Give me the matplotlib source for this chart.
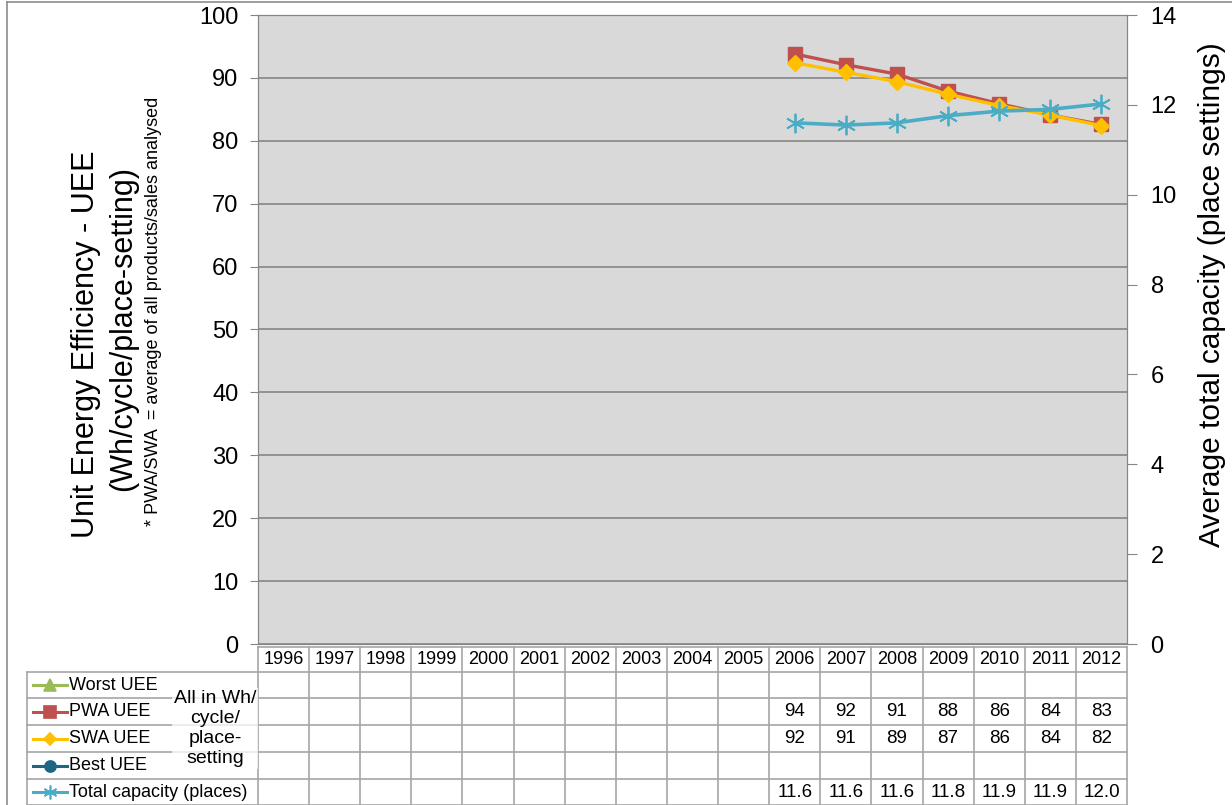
import numpy as np
import matplotlib
matplotlib.use('Agg')
import matplotlib.pyplot as plt
from matplotlib.lines import Line2D

plt.rcParams['font.family'] = ['Liberation Sans', 'DejaVu Sans']

# data
years = [str(y) for y in range(1996, 2013)]
pwa_years = ['2006', '2007', '2008', '2009', '2010', '2011', '2012']
pwa_uee = [93.8, 92.1, 90.6, 87.9, 85.9, 84.1, 82.6]
swa_uee = [92.4, 90.9, 89.4, 87.4, 85.6, 84.1, 82.4]
capacity = [11.6, 11.55, 11.6, 11.76, 11.86, 11.9, 12.02]
pwa_text = ['94', '92', '91', '88', '86', '84', '83']
swa_text = ['92', '91', '89', '87', '86', '84', '82']
cap_text = ['11.6', '11.6', '11.6', '11.8', '11.9', '11.9', '12.0']

c_worst = '#9bbb59'
c_pwa = '#c0504d'
c_swa = '#ffc000'
c_best = '#1f6584'
c_cap = '#4bacc6'
gridc = '#868686'

W, H = 1232, 805
fig = plt.figure(figsize=(W / 100, H / 100), dpi=100)

# figure border
fig.add_artist(Line2D([7 / W, 7 / W], [0, 1 - 2 / H], color='#8c8c8c', lw=1.2))
fig.add_artist(Line2D([7 / W, 1], [1 - 2 / H, 1 - 2 / H], color='#8c8c8c', lw=1.2))

x0, x1, ytop, ybot = 258, 1127, 15, 644
ax = fig.add_axes([x0 / W, 1 - ybot / H, (x1 - x0) / W, (ybot - ytop) / H])
ax.set_facecolor('#d9d9d9')
ax.set_xlim(-0.5, len(years) - 0.5)
ax.set_ylim(0, 100)
ax.set_yticks(np.arange(0, 101, 10))
ax.grid(axis='y', color=gridc, lw=1.2)
ax.set_axisbelow(True)
ax.set_xticks([])
for s in ax.spines.values():
    s.set_color(gridc)
ax.tick_params(axis='y', labelsize=17, length=6, color=gridc, pad=8)

xi = [years.index(y) for y in pwa_years]
ax.plot(xi, pwa_uee, '-s', color=c_pwa, lw=2.4, ms=10, zorder=3)
ax.plot(xi, swa_uee, '-D', color=c_swa, lw=2.4, ms=8, zorder=4)

ax2 = ax.twinx()
ax2.set_ylim(0, 14)
ax2.set_yticks(np.arange(0, 15, 2))
ax2.tick_params(axis='y', labelsize=17, length=7, color=gridc, pad=10)
for s in ax2.spines.values():
    s.set_color(gridc)
ax2.plot(xi, capacity, '-', color=c_cap, lw=2.6, marker=(6, 2, 0), ms=14, mew=1.3, zorder=3)

fig.text(86 / W, 1 - 344 / H, 'Unit Energy Efficiency - UEE', rotation=90,
         ha='center', va='center', fontsize=22)
fig.text(123 / W, 1 - 328 / H, '(Wh/cycle/place-setting)', rotation=90,
         ha='center', va='center', fontsize=22)
fig.text(154 / W, 1 - 311 / H, '* PWA/SWA  = average of all products/sales analysed',
         rotation=90, ha='center', va='center', fontsize=13)
fig.text(1212 / W, 1 - 295 / H, 'Average total capacity (place settings)', rotation=90,
         ha='center', va='center', fontsize=21.5)

# data table below the plot
tb_top = 647
tax = fig.add_axes([x0 / W, 0, (x1 - x0) / W, (H - tb_top) / H])
tax.set_xlim(-0.5, len(years) - 0.5)
tax.set_ylim(H - tb_top, 0)
tax.axis('off')
rows = [0, 25, 51, 78, 105, 132, 158]
colw = (x1 - x0) / len(years)
leg_left = -0.5 - (x0 - 27) / colw
lc = '#a6a6a6'
tax.plot([-0.5, len(years) - 0.5], [rows[0], rows[0]], color=lc, lw=1.2, clip_on=False)
for r in rows[1:]:
    tax.plot([leg_left, len(years) - 0.5], [r, r], color=lc, lw=1.2, clip_on=False)
for i in range(len(years) + 1):
    tax.plot([i - 0.5, i - 0.5], [rows[0], rows[-1]], color=lc, lw=1.2, clip_on=False)
tax.plot([leg_left, leg_left], [rows[1], rows[-1]], color=lc, lw=1.2, clip_on=False)

for i, y in enumerate(years):
    tax.text(i, (rows[0] + rows[1]) / 2, y, ha='center', va='center', fontsize=13)

series_rows = [
    ('Worst UEE', c_worst, '^', 8, None),
    ('PWA UEE', c_pwa, 's', 8, pwa_text),
    ('SWA UEE', c_swa, 'D', 6, swa_text),
    ('Best UEE', c_best, 'o', 8, None),
    ('Total capacity (places)', c_cap, (6, 2, 0), 10, cap_text),
]
sx0 = leg_left + 6 / colw
sx1 = leg_left + 40 / colw
for k, (name, col, mk, ms, vals) in enumerate(series_rows):
    yc = (rows[k + 1] + rows[k + 2]) / 2
    tax.plot([sx0, sx1], [yc, yc], color=col, lw=2.2, clip_on=False)
    tax.plot([(sx0 + sx1) / 2], [yc], marker=mk, color=col, ms=ms, mew=1.2, clip_on=False)
    tax.text(sx1 + 2 / colw, yc, name, ha='left', va='center', fontsize=13)
    if vals:
        for j, v in zip(xi, vals):
            tax.text(j, yc, v, ha='center', va='center', fontsize=13.5)

tax.text(leg_left + 188 / colw, (rows[1] + rows[-2]) / 2 + 3,
         'All in Wh/\ncycle/\nplace-\nsetting', ha='center', va='center',
         fontsize=14, linespacing=1.25,
         bbox=dict(facecolor='white', edgecolor='none', alpha=0.75, pad=1))

fig.savefig('out.png', dpi=100)
